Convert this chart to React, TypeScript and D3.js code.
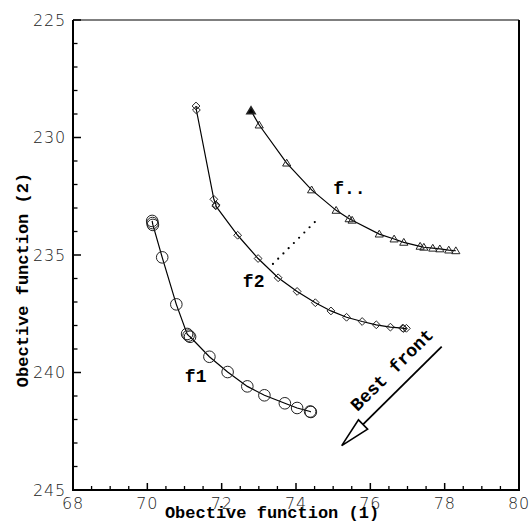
import React from "react";
import * as d3 from "d3";

// ---- data ----
const xTicks = [68, 70, 72, 74, 76, 78, 80];
const yTicks = [225, 230, 235, 240, 245];

const f1X = [70.13, 70.14, 70.15, 70.40, 70.78, 71.07, 71.11, 71.15, 71.67, 72.16, 72.69, 73.15, 73.70, 74.03, 74.38, 74.40];
const f1Y = [233.55, 233.64, 233.72, 235.10, 237.10, 238.36, 238.43, 238.48, 239.33, 239.98, 240.59, 240.97, 241.31, 241.51, 241.66, 241.68];

const f2X = [71.31, 71.32, 71.79, 71.85, 71.84, 72.43, 72.98, 73.52, 74.03, 74.52, 74.94, 75.36, 75.78, 76.16, 76.54, 76.87, 76.89, 76.97];
const f2Y = [228.66, 228.83, 232.63, 232.87, 232.91, 234.16, 235.15, 235.97, 236.55, 237.03, 237.38, 237.65, 237.83, 237.97, 238.07, 238.11, 238.13, 238.12];

const f3X = [72.79, 73.01, 73.75, 74.42, 75.08, 75.43, 75.51, 76.24, 76.64, 76.90, 77.34, 77.44, 77.68, 77.87, 78.11, 78.30];
const f3Y = [228.86, 229.47, 231.09, 232.23, 233.10, 233.46, 233.52, 234.11, 234.32, 234.46, 234.63, 234.67, 234.71, 234.74, 234.79, 234.82];

const dotted = [[73.38, 235.38], [74.51, 233.59]];
const arrow = [[77.92, 238.90], [75.23, 243.11]];
const arrowLabelPos = [76.57, 239.87];
const labels = [
  { text: "f1", x: 71.01, y: 240.4 },
  { text: "f2", x: 72.57, y: 236.36 },
  { text: "f..", x: 75.0, y: 232.4 },
];
const xTitle = "Obective function (1)";
const yTitle = "Obective function (2)";
const arrowLabel = "Best front";

// ---- layout ----
const W = 531, H = 528;
const L = 73, R = 519, T = 20, B = 490;

export default function App() {
  const x = d3.scaleLinear().domain([68, 80]).range([L, R]);
  const y = d3.scaleLinear().domain([225, 245]).range([T, B]);
  const line = d3.line<[number, number]>().x((d) => x(d[0])).y((d) => y(d[1]));

  const xMinor = d3.range(68, 80.001, 0.5).filter((v) => !xTicks.includes(v));
  const yMinor = d3.range(225, 245.001, 1).filter((v) => !yTicks.includes(v));

  const zip = (a: number[], b: number[]) => a.map((v, i) => [v, b[i]] as [number, number]);
  const s1 = zip(f1X, f1Y), s2 = zip(f2X, f2Y), s3 = zip(f3X, f3Y);

  const mono = "'Liberation Mono', 'Courier New', monospace";
  const sans = "'DejaVu Sans', sans-serif";

  // arrow geometry
  const ax0 = x(arrow[0][0]), ay0 = y(arrow[0][1]);
  const ax1 = x(arrow[1][0]), ay1 = y(arrow[1][1]);
  const ang = Math.atan2(ay1 - ay0, ax1 - ax0);
  const headLen = 30, headW = 6.5;
  const bx = ax1 - headLen * Math.cos(ang), by = ay1 - headLen * Math.sin(ang);
  const px = -Math.sin(ang) * headW, py = Math.cos(ang) * headW;
  const tx = x(arrowLabelPos[0]), ty = y(arrowLabelPos[1]);

  const tri = (cx: number, cy: number) => {
    const s = 3.9;
    return `M${cx},${cy - s}L${cx + s * 1.05},${cy + s * 0.75}L${cx - s * 1.05},${cy + s * 0.75}Z`;
  };
  const dia = (cx: number, cy: number) => {
    const s = 3.9;
    return `M${cx},${cy - s}L${cx + s},${cy}L${cx},${cy + s}L${cx - s},${cy}Z`;
  };

  return (
    <svg width={W} height={H} style={{ position: "absolute", left: 0, top: 0, background: "#fff" }}>
      {/* frame */}
      <line x1={L} x2={R} y1={T} y2={T} stroke="#000" strokeWidth={1.2} />
      <line x1={R} x2={R} y1={T} y2={B} stroke="#000" strokeWidth={2} />
      <line x1={L} x2={L} y1={T} y2={B + 1} stroke="#000" strokeWidth={2} />
      <line x1={L - 1} x2={R + 1} y1={B} y2={B} stroke="#000" strokeWidth={2} />

      {/* x ticks */}
      {xTicks.map((v) => (
        <g key={"xt" + v}>
          <line x1={x(v)} x2={x(v)} y1={B} y2={B - 7} stroke="#000" strokeWidth={1.5} />
          <text x={x(v)} y={509} textAnchor="middle" fontFamily={sans} fontWeight={200} fontSize={16} letterSpacing={0.8} fill="#222">{v}</text>
        </g>
      ))}
      {xMinor.map((v) => (
        <line key={"xm" + v} x1={x(v)} x2={x(v)} y1={B} y2={B - 4} stroke="#000" strokeWidth={1.3} />
      ))}
      {/* y ticks */}
      {yTicks.map((v) => (
        <g key={"yt" + v}>
          <line x1={L} x2={L + 8} y1={y(v)} y2={y(v)} stroke="#000" strokeWidth={1.5} />
          <text x={66} y={y(v)} dy="0.36em" textAnchor="end" fontFamily={sans} fontWeight={200} fontSize={16} letterSpacing={0.8} fill="#222">{v}</text>
        </g>
      ))}
      {yMinor.map((v) => (
        <line key={"ym" + v} x1={L} x2={L + 4.5} y1={y(v)} y2={y(v)} stroke="#000" strokeWidth={1.3} />
      ))}

      {/* titles */}
      <text x={272} y={518} textAnchor="middle" fontFamily={mono} fontWeight="bold" fontSize={17} fill="#000">{xTitle}</text>
      <text transform={`translate(28,280) rotate(-90)`} textAnchor="middle" fontFamily={mono} fontWeight="bold" fontSize={17} fill="#000">{yTitle}</text>

      {/* series lines */}
      <path d={line(s1) || ""} fill="none" stroke="#000" strokeWidth={1.2} />
      <path d={line(s2) || ""} fill="none" stroke="#000" strokeWidth={1.2} />
      <path d={line(s3) || ""} fill="none" stroke="#000" strokeWidth={1.2} />

      {/* markers */}
      {s1.map((d, i) => (
        <circle key={"c" + i} cx={x(d[0])} cy={y(d[1])} r={5.8} fill="none" stroke="#222" strokeWidth={1} />
      ))}
      {s2.map((d, i) => (
        <path key={"d" + i} d={dia(x(d[0]), y(d[1]))} fill="none" stroke="#222" strokeWidth={1} />
      ))}
      {s3.map((d, i) => (
        <path key={"t" + i} d={tri(x(d[0]), y(d[1]))} fill={i === 0 ? "#000" : "none"} stroke="#222" strokeWidth={i === 0 ? 1.6 : 1} />
      ))}

      {/* dotted connector */}
      <line x1={x(dotted[0][0])} y1={y(dotted[0][1])} x2={x(dotted[1][0])} y2={y(dotted[1][1])}
        stroke="#000" strokeWidth={2.2} strokeDasharray="0 7.4" strokeLinecap="round" />

      {/* labels */}
      {labels.map((l) => (
        <text key={l.text} x={x(l.x)} y={y(l.y)} fontFamily={mono} fontWeight="bold" fontSize={18} fill="#000">{l.text}</text>
      ))}

      {/* arrow */}
      <line x1={ax0} y1={ay0} x2={bx} y2={by} stroke="#000" strokeWidth={1.8} />
      <path d={`M${ax1},${ay1}L${bx + px},${by + py}L${bx - px},${by - py}Z`} fill="#fff" stroke="#000" strokeWidth={1.6} strokeLinejoin="miter" />
      <text transform={`translate(${tx},${ty}) rotate(${(ang * 180) / Math.PI + 180})`} textAnchor="middle" dy="0.35em"
        fontFamily={mono} fontWeight="bold" fontSize={18} fill="#000">{arrowLabel}</text>
    </svg>
  );
}
